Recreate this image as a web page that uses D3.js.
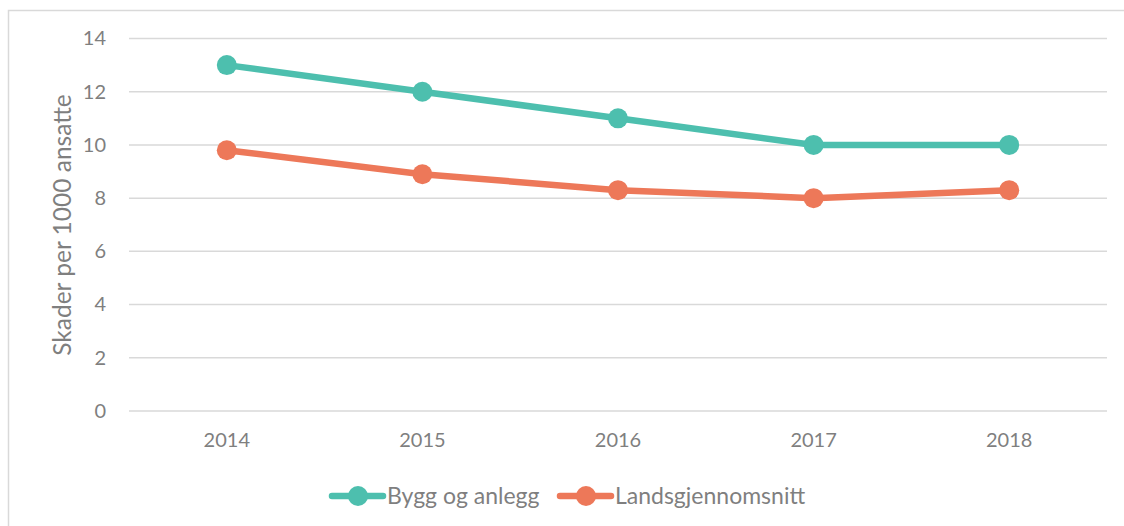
<!DOCTYPE html>
<html>
  <head>
    <meta charset="utf-8">
    <title>Skader per 1000 ansatte</title>
    <script src="https://cdn.jsdelivr.net/npm/d3@7"></script>
    <style>
      body { margin: 0; background: #fff; }
      svg text { font-family: Lato, "Open Sans", sans-serif; fill: #7f7f7f; }
    </style>
  </head>
  <body>
    <svg width="1124" height="526"></svg>
    <script>
      var years = ["2014", "2015", "2016", "2017", "2018"];
      var byggOgAnlegg = [13, 12, 11, 10, 10];
      var landsgjennomsnitt = [9.8, 8.9, 8.3, 8.0, 8.3];
      var yTicks = [0, 2, 4, 6, 8, 10, 12, 14];

      var series = [
        { name: "Bygg og anlegg", values: byggOgAnlegg, color: "#4dbfae" },
        { name: "Landsgjennomsnitt", values: landsgjennomsnitt, color: "#ed7859" }
      ];

      var svg = d3.select("svg");

      // outer chart frame (only left + top visible in the crop)
      svg.append("rect")
          .attr("x", 8.5).attr("y", 10.5)
          .attr("width", 1130).attr("height", 530)
          .attr("fill", "none")
          .attr("stroke", "#d9d9d9")
          .attr("stroke-width", 1.5);

      var x = d3.scaleBand().domain(years).range([129, 1107]);
      var y = d3.scaleLinear().domain([0, 14]).range([411, 38.5]);

      var grid = svg.append("g");
      grid.selectAll("line")
        .data(yTicks)
        .enter().append("line")
          .attr("x1", 129).attr("x2", 1107)
          .attr("y1", function(d) { return y(d); })
          .attr("y2", function(d) { return y(d); })
          .attr("stroke", "#d9d9d9")
          .attr("stroke-width", 1.5);

      var yAxis = svg.append("g")
          .attr("transform", "translate(129,0)")
          .call(d3.axisLeft(y).tickValues(yTicks).tickSize(0).tickPadding(23));
      yAxis.select(".domain").remove();
      yAxis.selectAll("text").style("font-size", "20px").attr("fill", "#7f7f7f");

      var xAxis = svg.append("g")
          .attr("transform", "translate(0,411)")
          .call(d3.axisBottom(x).tickSize(0).tickPadding(22));
      xAxis.select(".domain").remove();
      xAxis.selectAll("text").style("font-size", "20px").attr("fill", "#7f7f7f");

      svg.append("text")
          .attr("transform", "translate(62,225) rotate(-90)")
          .attr("text-anchor", "middle")
          .attr("dy", "0.35em")
          .style("font-size", "24.5px")
          .text("Skader per 1000 ansatte");

      var line = d3.line()
          .x(function(d, i) { return x(years[i]) + x.bandwidth() / 2; })
          .y(function(d) { return y(d); });

      series.forEach(function(s) {
        svg.append("path")
            .datum(s.values)
            .attr("d", line)
            .attr("fill", "none")
            .attr("stroke", s.color)
            .attr("stroke-width", 6.5)
            .attr("stroke-linejoin", "round");

        svg.append("g").selectAll("circle")
          .data(s.values)
          .enter().append("circle")
            .attr("cx", function(d, i) { return x(years[i]) + x.bandwidth() / 2; })
            .attr("cy", function(d) { return y(d); })
            .attr("r", 10)
            .attr("fill", s.color);
      });

      // legend
      var legendX = [330, 558];
      var legend = svg.append("g").selectAll("g")
        .data(series)
        .enter().append("g")
          .attr("transform", function(d, i) { return "translate(" + legendX[i] + ",496)"; });

      legend.append("line")
          .attr("x1", 2).attr("x2", 53)
          .attr("stroke", function(d) { return d.color; })
          .attr("stroke-width", 6.5)
          .attr("stroke-linecap", "round");
      legend.append("circle")
          .attr("cx", 28).attr("r", 10)
          .attr("fill", function(d) { return d.color; });
      legend.append("text")
          .attr("x", 57).attr("dy", "0.35em")
          .style("font-size", "23px")
          .text(function(d) { return d.name; });
    </script>
  </body>
</html>
